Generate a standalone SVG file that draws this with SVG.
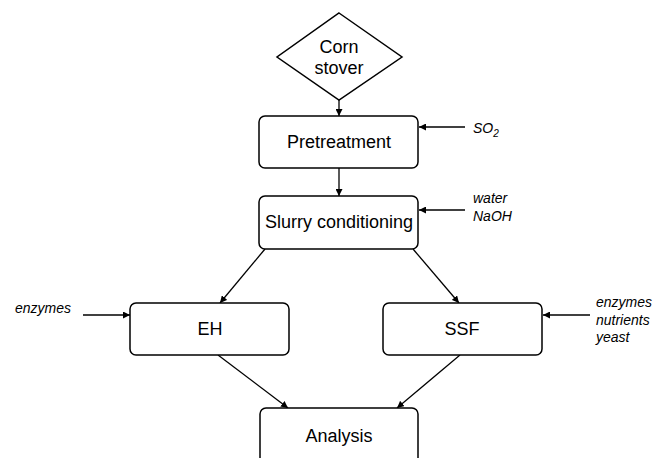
<svg xmlns="http://www.w3.org/2000/svg" width="654" height="458" viewBox="0 0 654 458">
<defs>
<marker id="ah" viewBox="0 0 10 10" refX="10" refY="5" markerWidth="7" markerHeight="7" markerUnits="userSpaceOnUse" orient="auto">
<path d="M0,0 L10,5 L0,10 z" fill="#000"/>
</marker>
<style>
.box{fill:#fff;stroke:#000;stroke-width:1.5}
.t{font-family:"Liberation Sans",Arial,sans-serif;font-size:18px;fill:#000;text-anchor:middle}
.i{font-family:"Liberation Sans",Arial,sans-serif;font-size:14px;font-style:italic;fill:#000}
.c{stroke:#000;stroke-width:1.3;fill:none;marker-end:url(#ah)}
</style>
</defs>
<rect width="654" height="458" fill="#fff"/>
<g id="connectors">
<line class="c" x1="339" y1="100" x2="339" y2="116"/>
<line class="c" x1="339" y1="168" x2="339" y2="196"/>
<line class="c" x1="465" y1="127" x2="419" y2="127"/>
<line class="c" x1="465" y1="210" x2="419" y2="210"/>
<line class="c" x1="265" y1="249" x2="220" y2="303"/>
<line class="c" x1="413" y1="249" x2="459" y2="303"/>
<line class="c" x1="83" y1="315" x2="130" y2="315"/>
<line class="c" x1="590" y1="315" x2="543" y2="315"/>
<line class="c" x1="218" y1="355" x2="288" y2="408"/>
<line class="c" x1="460" y1="355" x2="397" y2="408"/>
</g>
<g id="corn">
<polygon class="box" points="339,13 402,57 339,100 277,57"/>
<text class="t" x="339" y="53">Corn</text>
<text class="t" x="339" y="74">stover</text>
</g>
<g id="pretreatment">
<rect class="box" x="259" y="116" width="159" height="52" rx="6"/>
<text class="t" x="339" y="148">Pretreatment</text>
</g>
<g id="slurry">
<rect class="box" x="259" y="196" width="159" height="53" rx="6"/>
<text class="t" x="339" y="228">Slurry conditioning</text>
</g>
<g id="eh">
<rect class="box" x="130" y="303" width="159" height="52" rx="6"/>
<text class="t" x="210" y="335">EH</text>
</g>
<g id="ssf">
<rect class="box" x="383" y="303" width="159" height="52" rx="6"/>
<text class="t" x="462" y="335">SSF</text>
</g>
<g id="analysis">
<rect class="box" x="260" y="408" width="158" height="60" rx="6"/>
<text class="t" x="339" y="442">Analysis</text>
</g>
<g id="labels">
<text class="i" x="473" y="133">SO<tspan font-size="10" dy="4">2</tspan></text>
<text class="i" x="473" y="203">water</text>
<text class="i" x="473" y="221">NaOH</text>
<text class="i" x="15" y="313">enzymes</text>
<text class="i" x="596" y="307">enzymes</text>
<text class="i" x="596" y="325">nutrients</text>
<text class="i" x="596" y="342">yeast</text>
</g>
</svg>
